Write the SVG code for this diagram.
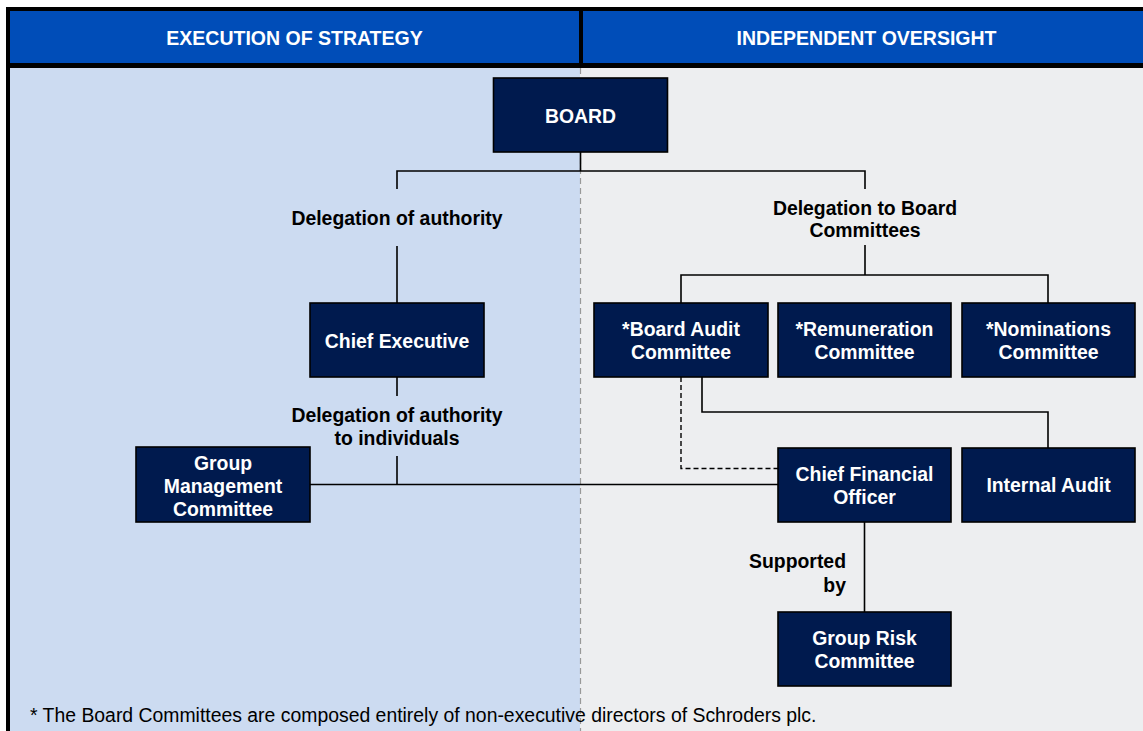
<svg xmlns="http://www.w3.org/2000/svg" width="1143" height="731" viewBox="0 0 1143 731">
  <style>
    .node rect { fill: #001A4E; stroke: #000; stroke-width: 1.6; }
    .node text { fill: #fff; font-family: "Liberation Sans", Arial, sans-serif; font-weight: bold; font-size: 19.4px; text-anchor: middle; }
    .hdr { fill: #fff; font-family: "Liberation Sans", Arial, sans-serif; font-weight: bold; font-size: 19.5px; text-anchor: middle; }
    .lbl { fill: #000; font-family: "Liberation Sans", Arial, sans-serif; font-weight: bold; font-size: 19.4px; text-anchor: middle; }
    .note { fill: #000; font-family: "Liberation Sans", Arial, sans-serif; font-size: 19.4px; }
    .conn { fill: none; stroke: #000; stroke-width: 1.6; }
    .dash { fill: none; stroke: #000; stroke-width: 1.4; stroke-dasharray: 5 3; }
  </style>

  <!-- frame and column backgrounds -->
  <g id="background">
    <rect x="0" y="0" width="1143" height="731" fill="#fff"/>
    <rect x="6" y="7" width="1150" height="740" fill="#000"/>
    <rect x="10" y="11" width="569" height="52" fill="#004DB8"/>
    <rect x="583" y="11" width="570" height="52" fill="#004DB8"/>
    <rect x="10" y="68" width="570" height="670" fill="#CCDBF1"/>
    <rect x="580" y="68" width="570" height="670" fill="#EDEEF0"/>
    <line x1="580.5" y1="68" x2="580.5" y2="731" stroke="#999" stroke-width="1.2" stroke-dasharray="6 4"/>
    <text class="hdr" x="294.5" y="45">EXECUTION OF STRATEGY</text>
    <text class="hdr" x="866.5" y="45">INDEPENDENT OVERSIGHT</text>
  </g>

  <!-- connectors and their labels -->
  <g id="connectors">
    <path class="conn" d="M580.5 152 V171 M397 189 V171 H865 V189"/>
    <path class="conn" d="M397 246 V303"/>
    <path class="conn" d="M865 245 V275 M681 303 V275 H1048 V303"/>
    <path class="conn" d="M397 377 V396 M397 456 V484.5 M310 484.5 H778"/>
    <path class="conn" d="M702 377 V412 H1048 V448"/>
    <path class="dash" d="M681 377 V468.5 H778"/>
    <path class="conn" d="M864.5 522 V612"/>
    <text class="lbl" x="397" y="225">Delegation of authority</text>
    <text class="lbl" x="865" y="215">Delegation to Board</text>
    <text class="lbl" x="865" y="237">Committees</text>
    <text class="lbl" x="397" y="422">Delegation of authority</text>
    <text class="lbl" x="397" y="445">to individuals</text>
    <text class="lbl" x="846" y="568" style="text-anchor:end">Supported</text>
    <text class="lbl" x="846" y="592" style="text-anchor:end">by</text>
  </g>

  <g id="board" class="node">
    <rect x="493.5" y="78" width="174" height="74"/>
    <text x="580.5" y="123">BOARD</text>
  </g>
  <g id="chief-executive" class="node">
    <rect x="310" y="303" width="174" height="74"/>
    <text x="397" y="348">Chief Executive</text>
  </g>
  <g id="board-audit" class="node">
    <rect x="594" y="303" width="174" height="74"/>
    <text x="681" y="336">*Board Audit</text>
    <text x="681" y="359">Committee</text>
  </g>
  <g id="remuneration" class="node">
    <rect x="778" y="303" width="173" height="74"/>
    <text x="864.5" y="336">*Remuneration</text>
    <text x="864.5" y="359">Committee</text>
  </g>
  <g id="nominations" class="node">
    <rect x="962" y="303" width="173" height="74"/>
    <text x="1048.5" y="336">*Nominations</text>
    <text x="1048.5" y="359">Committee</text>
  </g>
  <g id="group-management" class="node">
    <rect x="136" y="447" width="174" height="75"/>
    <text x="223" y="470">Group</text>
    <text x="223" y="493">Management</text>
    <text x="223" y="516">Committee</text>
  </g>
  <g id="cfo" class="node">
    <rect x="778" y="448" width="173" height="74"/>
    <text x="864.5" y="481">Chief Financial</text>
    <text x="864.5" y="504">Officer</text>
  </g>
  <g id="internal-audit" class="node">
    <rect x="962" y="448" width="173" height="74"/>
    <text x="1048.5" y="492">Internal Audit</text>
  </g>
  <g id="group-risk" class="node">
    <rect x="778" y="612" width="173" height="74"/>
    <text x="864.5" y="645">Group Risk</text>
    <text x="864.5" y="668">Committee</text>
  </g>

  <g id="footnote">
    <text class="note" x="30" y="722">* The Board Committees are composed entirely of non-executive directors of Schroders plc.</text>
  </g>
</svg>
